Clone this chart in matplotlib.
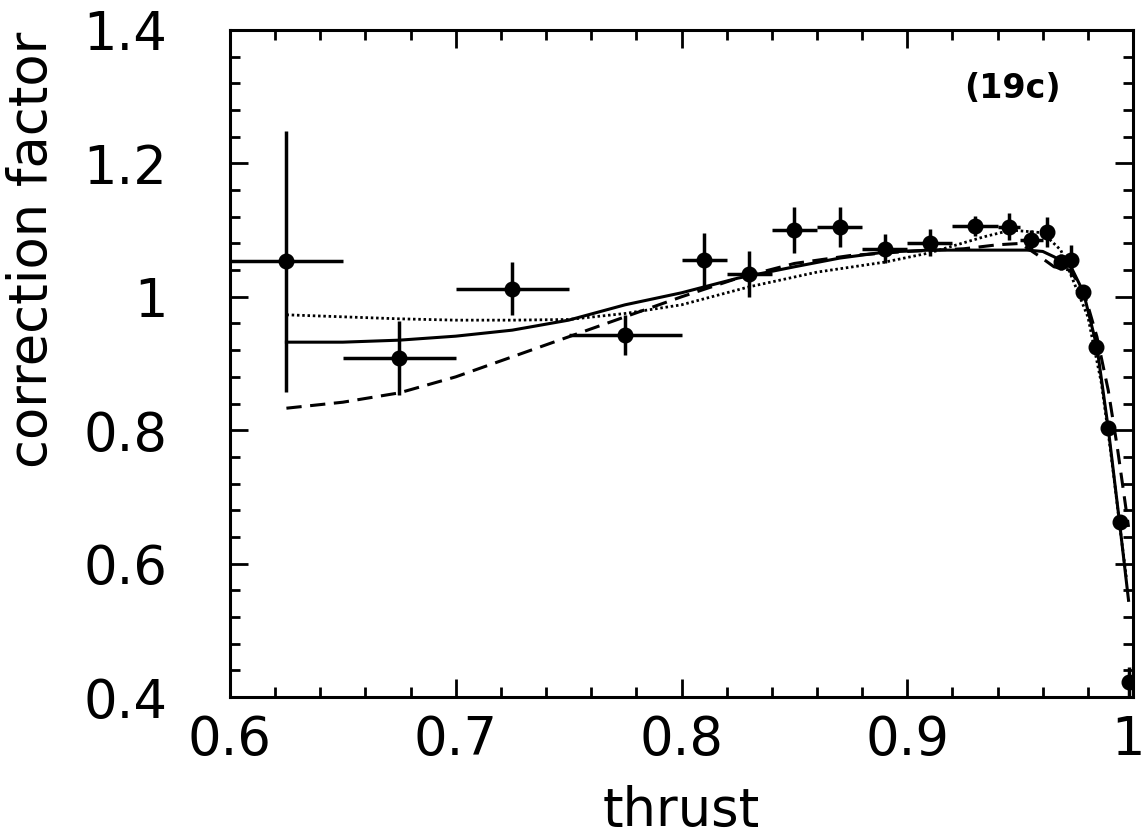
import matplotlib
matplotlib.use('Agg')
import matplotlib.pyplot as plt
import matplotlib.transforms as mtransforms
from matplotlib.ticker import MultipleLocator


# measured points with bin widths
thrust = [0.625, 0.675, 0.725, 0.775, 0.81, 0.83, 0.85, 0.87, 0.89, 0.91, 0.93,
          0.945, 0.955, 0.962, 0.968, 0.9725, 0.978, 0.9835, 0.989, 0.994, 0.998]
thrust_err = [0.025, 0.025, 0.025, 0.025, 0.01, 0.01, 0.01, 0.01, 0.01, 0.01, 0.01,
              0.005, 0.005, 0.003, 0.003, 0.0025, 0.0025, 0.0025, 0.0025, 0.0025, 0.002]
corr = [1.053, 0.908, 1.012, 0.943, 1.055, 1.034, 1.100, 1.105, 1.072, 1.081, 1.106,
        1.105, 1.085, 1.097, 1.052, 1.055, 1.007, 0.925, 0.803, 0.662, 0.423]
corr_err = [0.195, 0.055, 0.04, 0.03, 0.04, 0.035, 0.034, 0.03, 0.022, 0.02, 0.015,
            0.02, 0.015, 0.022, 0.012, 0.022, 0.01, 0.01, 0.01, 0.01, 0.022]

# model curves
solid_x = [0.625, 0.65, 0.675, 0.70, 0.725, 0.75, 0.775, 0.80, 0.825, 0.85, 0.87, 0.89,
           0.91, 0.94, 0.953, 0.96, 0.965, 0.9725, 0.978, 0.984, 0.989, 0.994, 0.998]
solid_y = [0.932, 0.932, 0.935, 0.941, 0.950, 0.965, 0.988, 1.006, 1.028, 1.045, 1.058, 1.067,
           1.070, 1.070, 1.070, 1.068, 1.060, 1.045, 1.007, 0.925, 0.803, 0.662, 0.545]

dash_x = [0.625, 0.65, 0.675, 0.70, 0.725, 0.75, 0.775, 0.80, 0.825, 0.85, 0.875, 0.90,
          0.925, 0.94, 0.95, 0.958, 0.965, 0.972, 0.978, 0.984, 0.989, 0.993, 0.998]
dash_y = [0.833, 0.842, 0.856, 0.880, 0.910, 0.940, 0.970, 1.000, 1.028, 1.050, 1.062, 1.068,
          1.072, 1.078, 1.080, 1.062, 1.045, 1.040, 1.010, 0.940, 0.860, 0.775, 0.655]

dot_x = [0.625, 0.65, 0.675, 0.70, 0.725, 0.75, 0.775, 0.80, 0.83, 0.86, 0.89, 0.91,
         0.934, 0.946, 0.96, 0.968, 0.974, 0.98, 0.986, 0.989, 0.9915, 0.9945, 0.997]
dot_y = [0.973, 0.970, 0.967, 0.965, 0.965, 0.966, 0.975, 0.988, 1.015, 1.037, 1.052, 1.066,
         1.090, 1.100, 1.096, 1.070, 1.020, 0.970, 0.870, 0.796, 0.730, 0.646, 0.580]


def main():
    fig = plt.figure(figsize=(11.43, 8.4), dpi=100)
    ax = fig.add_axes([0.2012, 0.1702, 0.7901, 0.7941])

    ax.plot(solid_x, solid_y, color='black', lw=2.2, ls='-')
    ax.plot(dash_x, dash_y, color='black', lw=2.2, ls=(0, (5, 2.8)))
    ax.plot(dot_x, dot_y, color='black', lw=2.0, ls=(0, (0.9, 1.0)))
    ax.errorbar(thrust, corr, xerr=thrust_err, yerr=corr_err, fmt='o', color='black',
                ms=10.5, elinewidth=2.5, capsize=0)

    ax.set_xlim(0.6, 1.0)
    ax.set_ylim(0.4, 1.4)
    ax.xaxis.set_major_locator(MultipleLocator(0.1))
    ax.xaxis.set_minor_locator(MultipleLocator(0.02))
    ax.yaxis.set_major_locator(MultipleLocator(0.2))
    ax.yaxis.set_minor_locator(MultipleLocator(0.04))
    ax.set_xticks([0.6, 0.7, 0.8, 0.9, 1.0])
    ax.set_xticklabels(['0.6', '0.7', '0.8', '0.9', '1'])
    ax.set_yticks([0.4, 0.6, 0.8, 1.0, 1.2, 1.4])
    ax.set_yticklabels(['0.4', '0.6', '0.8', '1', '1.2', '1.4'])

    ax.tick_params(which='both', direction='in', top=True, right=True, width=2.0)
    ax.tick_params(which='major', length=13)
    ax.tick_params(which='minor', length=7)
    ax.tick_params(axis='x', which='major', labelsize=38, pad=12)
    ax.tick_params(axis='y', which='major', labelsize=38, pad=45)
    for s in ax.spines.values():
        s.set_linewidth(2.2)

    # nudge the last x label so it stays inside the figure
    last = ax.get_xticklabels()[-1]
    last.set_transform(last.get_transform() +
                       mtransforms.ScaledTranslation(-4 / 72, 0, fig.dpi_scale_trans))

    ax.set_xlabel('thrust', fontsize=38, labelpad=14)
    fig.text(0.028, 0.962, 'correction factor', rotation=90, fontsize=38,
             ha='center', va='top')
    ax.text(0.866, 0.913, '(19c)', transform=ax.transAxes, fontsize=24,
            fontweight='bold', ha='center', va='center')

    fig.savefig('out.png', dpi=100)


if __name__ == '__main__':
    main()
